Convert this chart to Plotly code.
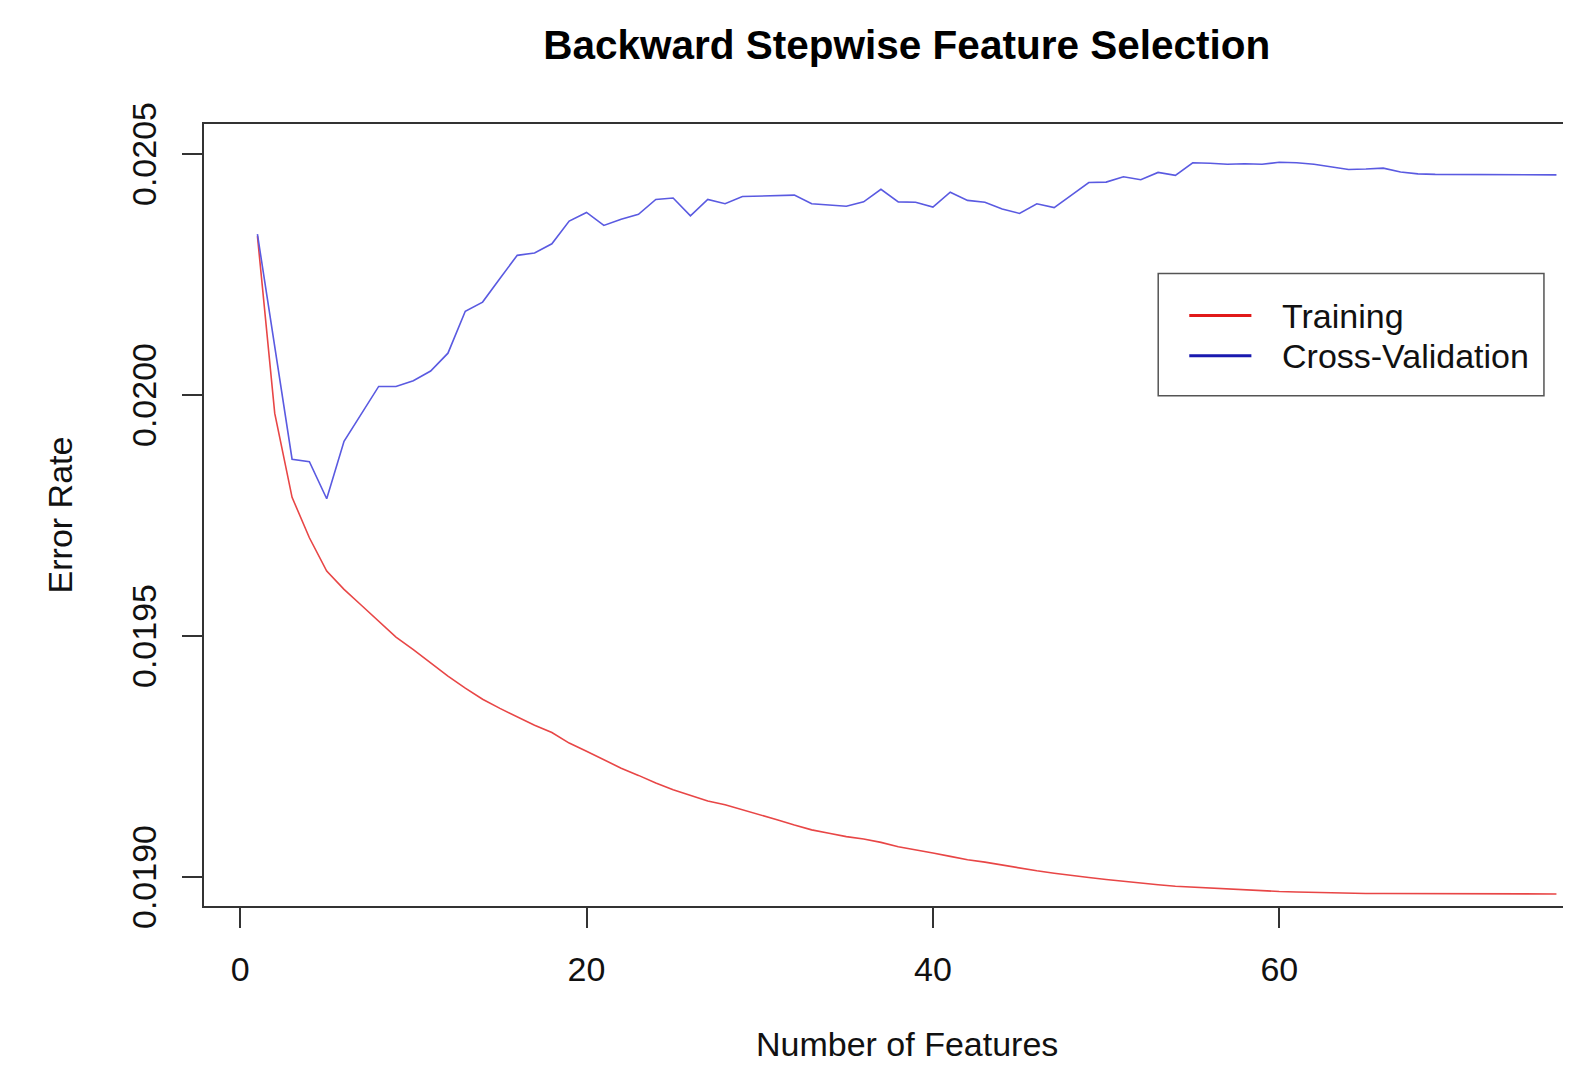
import plotly.graph_objects as go

n_features = [1, 2, 3, 4, 5, 6, 7, 8, 9, 10, 11, 12, 13, 14, 15, 16, 17, 18, 19, 20,
              21, 22, 23, 24, 25, 26, 27, 28, 29, 30, 31, 32, 33, 34, 35, 36, 37, 38, 39, 40,
              41, 42, 43, 44, 45, 46, 47, 48, 49, 50, 51, 52, 53, 54, 55, 56, 57, 58, 59, 60,
              61, 62, 63, 64, 65, 66, 67, 68, 69, 70, 71, 72, 73, 74, 75, 76]

training_error = [
    0.020330, 0.019962, 0.019788, 0.019704, 0.019635, 0.019597, 0.019564, 0.019531, 0.019498, 0.019472,
    0.019445, 0.019417, 0.019392, 0.019369, 0.019350, 0.019332, 0.019315, 0.019300, 0.019278, 0.019261,
    0.019244, 0.019226, 0.019211, 0.019195, 0.019181, 0.019169, 0.019158, 0.019150, 0.019140, 0.019129,
    0.019119, 0.019108, 0.019098, 0.019091, 0.019084, 0.019079, 0.019072, 0.019063, 0.019057, 0.019050,
    0.019043, 0.019036, 0.019031, 0.019025, 0.019018, 0.019013, 0.019008, 0.019003, 0.018999, 0.018995,
    0.018991, 0.018987, 0.018984, 0.018981, 0.018979, 0.018977, 0.018975, 0.018973, 0.018972, 0.018970,
    0.018969, 0.018968, 0.018967, 0.018967, 0.018966, 0.018966, 0.018966, 0.018966, 0.018966, 0.018966,
    0.018965, 0.018965, 0.018965, 0.018965, 0.018965, 0.018965]

cv_error = [
    0.020334, 0.020100, 0.019867, 0.019862, 0.019785, 0.019904, 0.019962, 0.020018, 0.020018, 0.020030,
    0.020050, 0.020087, 0.020174, 0.020193, 0.020242, 0.020290, 0.020295, 0.020314, 0.020361, 0.020379,
    0.020352, 0.020365, 0.020375, 0.020406, 0.020409, 0.020372, 0.020406, 0.020397, 0.020412, 0.020413,
    0.020414, 0.020415, 0.020397, 0.020395, 0.020392, 0.020401, 0.020427, 0.020401, 0.020400, 0.020390,
    0.020421, 0.020404, 0.020400, 0.020386, 0.020377, 0.020397, 0.020389, 0.020415, 0.020441, 0.020442,
    0.020453, 0.020447, 0.020462, 0.020456, 0.020482, 0.020481, 0.020479, 0.020480, 0.020479, 0.020483,
    0.020482, 0.020479, 0.020474, 0.020468, 0.020469, 0.020471, 0.020463, 0.020459, 0.020458, 0.020458,
    0.020458, 0.020457, 0.020457, 0.020457, 0.020457, 0.020457]

x_ticks = [0, 20, 40, 60]
y_ticks = [0.0190, 0.0195, 0.0200, 0.0205]
y_tick_labels = ["0.0190", "0.0195", "0.0200", "0.0205"]
series_names = ["Training", "Cross-Validation"]
x_title = "Number of Features"
y_title = "Error Rate"
chart_title = "Backward Stepwise Feature Selection"

# the page body has an 8px default margin; size the figure so it fills the window
OFF = 8
SX, SY = 1571 / 1568, 1065 / 1063
W, H = 1571 - OFF, 1065 - OFF
ML, MR, MT, MB = 196, 0, 116, 159
PW, PH = W - ML - MR, H - MT - MB
FONT = "Liberation Sans, Arial, Helvetica, sans-serif"
FS = 34


def px_x(px):
    # measured window pixel -> paper fraction
    return (px * SX - OFF - ML) / PW


def px_y(py):
    return (OFF + H - MB - py * SY) / PH


fig = go.Figure()
fig.add_trace(go.Scatter(x=n_features, y=training_error, mode="lines", name=series_names[0],
                         line=dict(color="rgb(232,70,70)", width=1.6), showlegend=False))
fig.add_trace(go.Scatter(x=n_features, y=cv_error, mode="lines", name=series_names[1],
                         line=dict(color="rgb(90,90,225)", width=1.6), showlegend=False))

# legend drawn as a framed box (R style)
shapes = [
    dict(type="rect", xref="paper", yref="paper", x0=px_x(1156), x1=px_x(1541),
         y0=px_y(395), y1=px_y(273), line=dict(color="#555555", width=1.5), fillcolor="white",
         layer="above"),
    dict(type="line", xref="paper", yref="paper", x0=px_x(1187), x1=px_x(1249),
         y0=px_y(315), y1=px_y(315), line=dict(color="rgb(225,25,25)", width=3), layer="above"),
    dict(type="line", xref="paper", yref="paper", x0=px_x(1187), x1=px_x(1249),
         y0=px_y(355), y1=px_y(355), line=dict(color="rgb(25,25,175)", width=3), layer="above"),
]
annotations = [
    dict(text=series_names[0], xref="paper", yref="paper", x=px_x(1278), y=px_y(315),
         xanchor="left", yanchor="middle", showarrow=False, font=dict(size=FS, color="#111111", family=FONT)),
    dict(text=series_names[1], xref="paper", yref="paper", x=px_x(1278), y=px_y(355),
         xanchor="left", yanchor="middle", showarrow=False, font=dict(size=FS, color="#111111", family=FONT)),
    # x-axis title, centred on R's full plot region (which extends past the window)
    dict(text=x_title, xref="paper", yref="paper", x=px_x(905), y=px_y(1042),
         xanchor="center", yanchor="middle", showarrow=False, font=dict(size=FS, color="#111111", family=FONT)),
]

fig.update_layout(
    width=W, height=H,
    margin=dict(l=ML, r=MR, t=MT, b=MB, pad=0),
    paper_bgcolor="white", plot_bgcolor="white",
    font=dict(family=FONT, size=FS, color="#111111"),
    title=dict(text="<b>" + chart_title + "</b>", x=(905 * SX - OFF) / W, xref="container",
               xanchor="center", y=1 - (45 * SY - OFF) / H, yref="container", yanchor="middle",
               font=dict(size=40.5, color="#000000", family=FONT)),
    shapes=shapes, annotations=annotations,
    xaxis=dict(range=[-2.085, 76.84], tickvals=x_ticks, ticks="outside", ticklen=20,
               tickwidth=1.5, tickcolor="#333333", showline=True, linecolor="#333333", linewidth=2,
               mirror=True, showgrid=False, zeroline=False, ticklabelstandoff=12,
               tickfont=dict(size=FS)),
    yaxis=dict(range=[0.018940, 0.0205625], tickvals=y_ticks, ticktext=y_tick_labels,
               ticks="outside", ticklen=20, tickwidth=1.5, tickcolor="#333333",
               showline=True, linecolor="#333333", linewidth=2, mirror=False, showgrid=False,
               zeroline=False, tickangle=-90, ticklabelstandoff=12, ticklabelshift=5,
               tickfont=dict(size=FS),
               title=dict(text=y_title, standoff=43, font=dict(size=FS))),
)

fig.write_html("out.html")
